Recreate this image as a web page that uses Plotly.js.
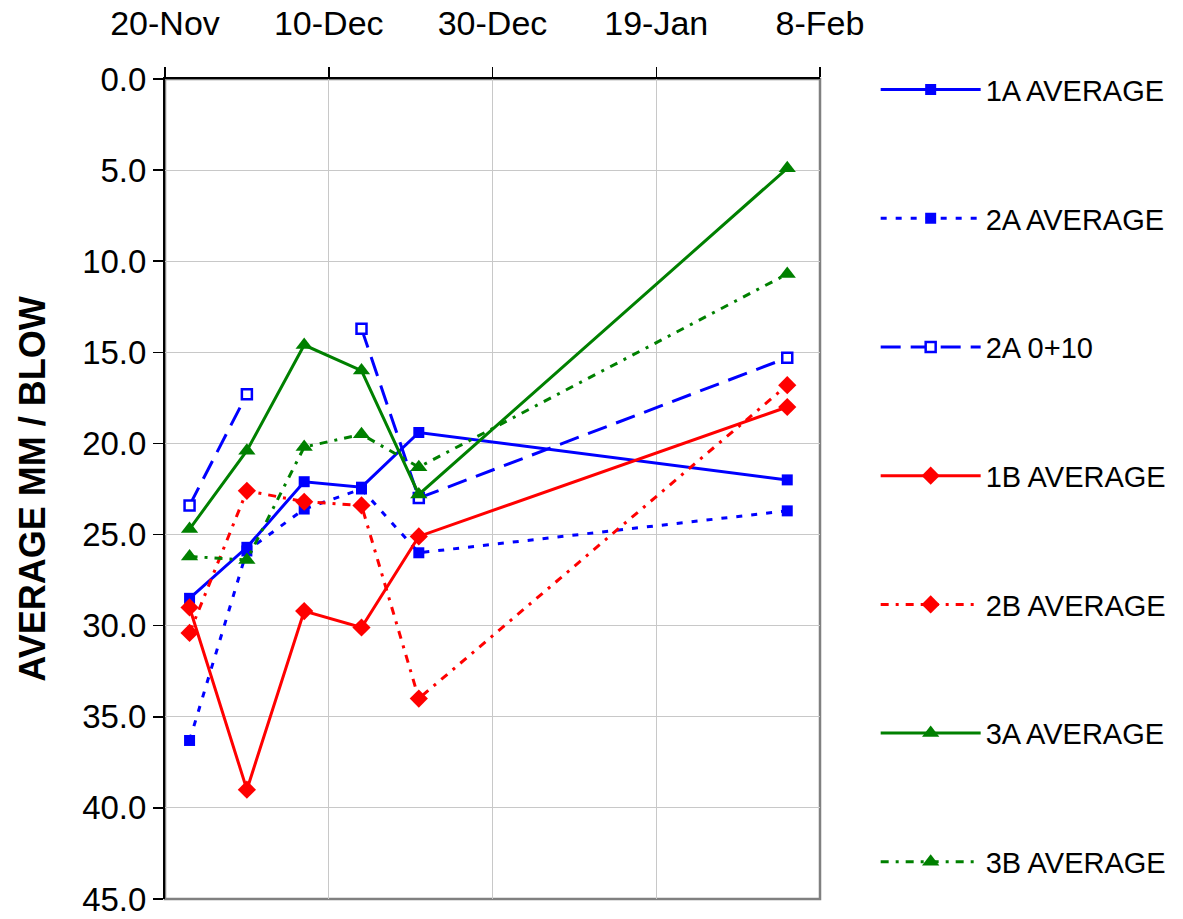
<!DOCTYPE html>
<html>
<head>
<meta charset="utf-8">
<script src="https://cdn.plot.ly/plotly-3.0.1.min.js"></script>
<style>
  html, body { margin: 0; padding: 0; background: #ffffff; }
  #chart { width: 1183px; height: 919px; }
</style>
</head>
<body>
<div id="chart"></div>
<script>
// Sampling dates (weekly through December, then one reading in February)
const sampleDates = ['2002-11-23', '2002-11-30', '2002-12-07', '2002-12-14', '2002-12-21', '2003-02-04'];

// Average penetration, mm per blow
const avg1A  = [28.5, 25.7, 22.1, 22.4, 19.4, 22.0];
const avg2A  = [36.3, 25.9, 23.6, 22.5, 26.0, 23.7];
const avg2A010 = [23.4, 17.3, null, 13.7, 23.0, 15.3];
const avg1B  = [29.0, 39.0, 29.2, 30.1, 25.1, 18.0];
const avg2B  = [30.4, 22.6, 23.2, 23.4, 34.0, 16.8];
const avg3A  = [24.7, 20.4, 14.6, 16.0, 22.8, 4.9];
const avg3B  = [26.2, 26.4, 20.2, 19.5, 21.3, 10.7];

const seriesNames = ['1A AVERAGE', '2A AVERAGE', '2A 0+10', '1B AVERAGE', '2B AVERAGE', '3A AVERAGE', '3B AVERAGE'];

const BLUE = '#0000ff', RED = '#ff0000', GREEN = '#008000';

function series(name, values, color, dash, symbol, size, group) {
  const open = symbol === 'square-open';
  return {
    type: 'scatter',
    mode: 'lines+markers',
    name: name,
    legendgroup: group,
    x: sampleDates,
    y: values,
    connectgaps: false,
    line: { color: color, width: 3, dash: dash },
    marker: {
      color: open ? '#ffffff' : color,
      symbol: open ? 'square' : symbol,
      size: size,
      line: { color: color, width: open ? 2.5 : 0 }
    },
    hoverinfo: 'skip'
  };
}

const traces = [
  series(seriesNames[0], avg1A, BLUE, 'solid', 'square', 11, 'g1'),
  series(seriesNames[1], avg2A, BLUE, '6px,9px', 'square', 11, 'g2'),
  series(seriesNames[2], avg2A010, BLUE, '20px,10px', 'square-open', 10, 'g3'),
  series(seriesNames[3], avg1B, RED, 'solid', 'diamond', 14, 'g4'),
  series(seriesNames[4], avg2B, RED, '8px,7px,3px,7px', 'diamond', 14, 'g5'),
  series(seriesNames[5], avg3A, GREEN, 'solid', 'triangle-up', 15, 'g6'),
  series(seriesNames[6], avg3B, GREEN, '8px,7px,3px,7px', 'triangle-up', 15, 'g7')
];

const FONT = '"Liberation Sans", Arial, sans-serif';

const layout = {
  width: 1183,
  height: 919,
  margin: { l: 165, r: 363, t: 79, b: 20 },
  paper_bgcolor: '#ffffff',
  plot_bgcolor: '#ffffff',
  font: { family: FONT, color: '#000000' },
  showlegend: true,
  legend: {
    x: 1.085, xanchor: 'left',
    y: 1.018, yanchor: 'top',
    font: { family: FONT, size: 29, color: '#000000' },
    itemwidth: 100,
    traceorder: 'grouped',
    tracegroupgap: 88,
    maxheight: 919,
    bgcolor: 'rgba(0,0,0,0)'
  },
  xaxis: {
    type: 'date',
    side: 'top',
    range: ['2002-11-20', '2003-02-08'],
    tick0: '2002-11-20',
    dtick: 20 * 86400000,
    tickformat: '%-d-%b',
    ticks: 'outside',
    ticklen: 10,
    tickwidth: 1.5,
    tickcolor: '#000000',
    ticklabelstandoff: 18,
    tickfont: { family: FONT, size: 34, color: '#000000' },
    showline: true,
    linecolor: '#000000',
    linewidth: 2,
    showgrid: true,
    gridcolor: '#c8c8c8',
    gridwidth: 1,
    zeroline: false,
    fixedrange: true
  },
  yaxis: {
    range: [45, 0],
    tick0: 0,
    dtick: 5,
    tickformat: '.1f',
    ticks: 'outside',
    ticklen: 10,
    tickwidth: 1.5,
    tickcolor: '#000000',
    ticklabeloverflow: 'allow',
    tickfont: { family: FONT, size: 33, color: '#000000' },
    showline: true,
    linecolor: '#000000',
    linewidth: 2,
    showgrid: true,
    gridcolor: '#c8c8c8',
    gridwidth: 1,
    zeroline: false,
    fixedrange: true,
    title: {
      text: 'AVERAGE MM / BLOW',
      font: { family: FONT, size: 36, color: '#000000', weight: 'bold' },
      standoff: 26
    }
  },
  shapes: [{
    type: 'rect', xref: 'paper', yref: 'paper',
    x0: 0, x1: 1, y0: 0, y1: 1,
    line: { color: '#808080', width: 2.5 },
    layer: 'below'
  }]
};

Plotly.newPlot('chart', traces, layout, { displayModeBar: false, staticPlot: true });
</script>
</body>
</html>
